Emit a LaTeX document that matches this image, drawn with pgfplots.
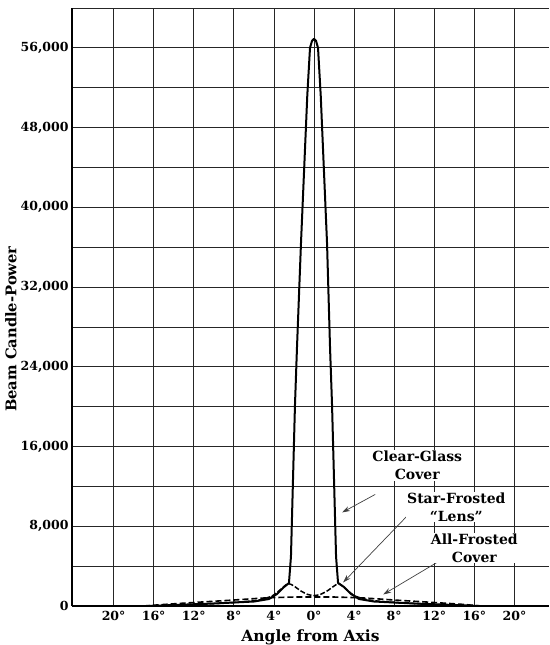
\documentclass[border=0pt]{standalone}
\usepackage{fontspec}
\setmainfont{DejaVu Serif}
\usepackage{pgfplots}
\pgfplotsset{compat=1.18}
\usetikzlibrary{arrows.meta}

\begin{document}
\begin{tikzpicture}
\useasboundingbox (-72pt,-39pt) rectangle (477pt,606pt);
\begin{axis}[
  scale only axis, width=477pt, height=598pt,
  xmin=-24.15, xmax=23.45, ymin=0, ymax=60000,
  axis x line*=bottom, axis y line*=left,
  axis line style={-, line width=1.4pt},
  xtick={-20,-16,...,20},
  xticklabels={20°,16°,12°,8°,4°,0°,4°,8°,12°,16°,20°},
  ytick={0,8000,16000,24000,32000,40000,48000,56000},
  yticklabels={0,{8,000},{16,000},{24,000},{32,000},{40,000},{48,000},{56,000}},
  minor ytick={4000,12000,20000,28000,36000,44000,52000,60000},
  xmajorgrids, ymajorgrids, yminorgrids,
  major grid style={black!85, line width=0.75pt},
  minor grid style={black!85, line width=0.75pt},
  major tick length=0pt, minor tick length=0pt,
  tick label style={font=\fontsize{12.5}{14}\selectfont\bfseries},
  xticklabel style={yshift=-1.5pt},
  xlabel={Angle from Axis}, ylabel={Beam Candle-Power},
  xlabel style={font=\fontsize{15.5}{18}\selectfont\bfseries, at={(axis description cs:0.5,-0.052)}, anchor=center},
  ylabel style={font=\fontsize{14.7}{18}\selectfont\bfseries, at={(axis description cs:-0.128,0.463)}, anchor=center},
  clip=false,
]
% All-Frosted Cover
\addplot[black, line width=1.6pt, dash pattern=on 6pt off 3pt, smooth, tension=0.4] coordinates {
  (-17,0) (-15,150) (-12,350) (-8,600) (-5,800) (-2,900) (0,900) (2,900) (5,800) (8,600) (12,350) (15,150) (16.5,0)
};
% Star-Frosted "Lens"
\addplot[black, line width=1.5pt, dash pattern=on 5pt off 2pt, smooth, tension=0.4] coordinates {
  (-16,0) (-12,150) (-8,350) (-5.5,600) (-4.2,1000) (-3.4,1600) (-2.6,2250) (-2.0,2000) (-1.3,1500) (-0.6,1150) (0,1050)
  (0.6,1150) (1.3,1500) (2.0,2000) (2.5,2250) (3.3,1600) (4.1,1000) (5.5,600) (8,350) (12,150) (16,0)
};
% Clear-Glass Cover
\addplot[black, line width=2pt, line join=round] coordinates {
  (-16.5,0) (-14,100) (-10,250) (-6,450) (-4.5,700) (-3.7,1200) (-3.0,1900) (-2.5,2300)
  (-2.3,4960) (-1.9,20150) (-1.7,25900) (-1.3,36400) (-0.67,51240) (-0.4,56000) (-0.2,56700) (0,56900)
  (0.2,56700) (0.4,56000) (0.67,51240) (1.3,36400) (1.6,25900) (1.8,20150) (2.2,4960)
  (2.4,2300) (3.0,1900) (3.7,1200) (4.5,700) (6,450) (10,250) (14,100) (16.5,0)
};
% annotation arrows
\draw[black!75, line width=0.7pt, -{Stealth[length=8pt,width=5pt]}] (axis cs:6.1,11190) -- (axis cs:2.8,9384);
\draw[black!75, line width=0.7pt, -{Stealth[length=8pt,width=5pt]}] (axis cs:10.3,10086) -- (axis cs:2.9,2358);
\draw[black!75, line width=0.7pt, -{Stealth[length=8pt,width=5pt]}] (axis cs:13.1,4867) -- (axis cs:6.9,1154);
% annotation texts
\node[fill=white, inner sep=1pt, align=center, font=\fontsize{14}{18}\selectfont\bfseries] at (axis cs:10.3,14100) {Clear-Glass\\Cover};
\node[fill=white, inner sep=1pt, align=center, font=\fontsize{14}{18}\selectfont\bfseries] at (axis cs:14.2,9936) {Star-Frosted\\``Lens''};
\node[fill=white, inner sep=1pt, align=center, font=\fontsize{14}{18}\selectfont\bfseries] at (axis cs:16.0,5821) {All-Frosted\\Cover};
\end{axis}
\end{tikzpicture}
\end{document}
